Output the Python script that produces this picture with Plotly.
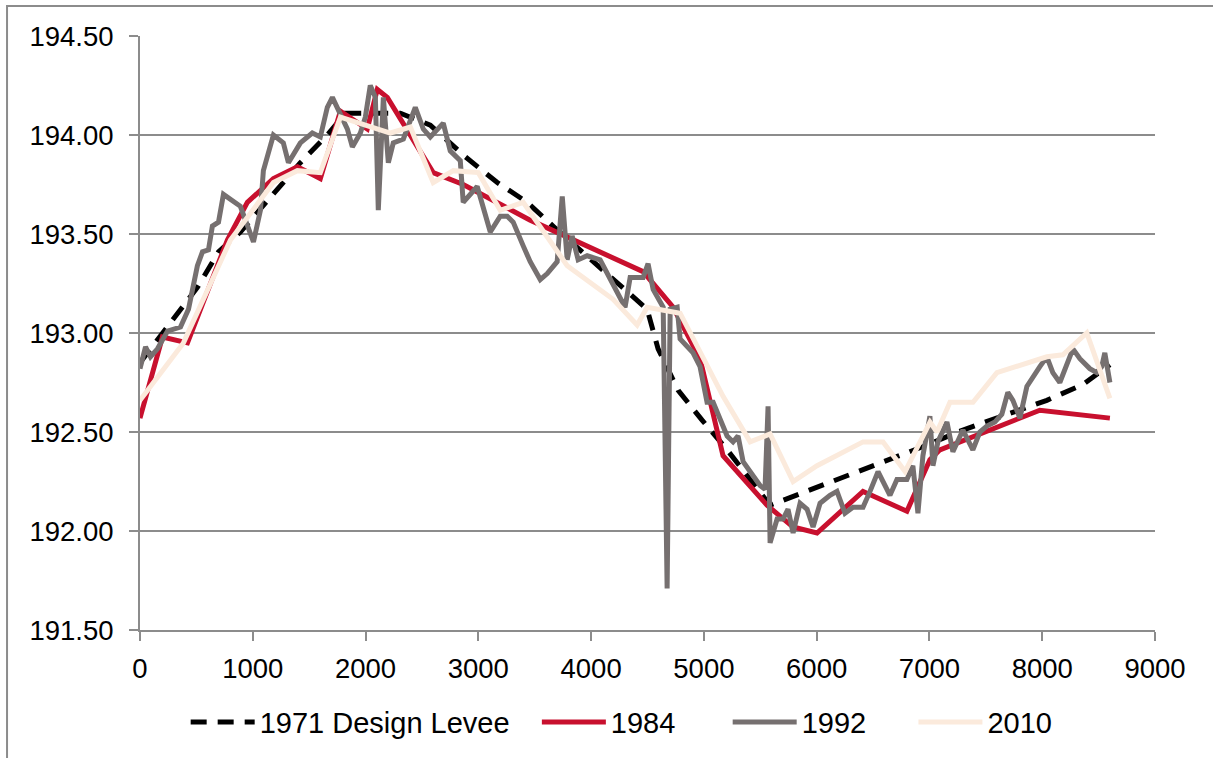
import plotly.graph_objects as go

# Station (ft) and crest elevation for each levee profile
design_x = [0, 297, 509, 696, 890, 1422, 1661, 1821, 2308, 2574, 2884, 3168, 3433, 3681,
            4275, 4497, 4594, 4772, 4984, 5206, 5587, 6003, 6357, 6667, 6960, 7297, 8041,
            8360, 8600]
design_y = [192.85, 193.07, 193.23, 193.41, 193.51, 193.86, 194.00, 194.11, 194.11, 194.05,
            193.89, 193.76, 193.66, 193.53, 193.23, 193.12, 192.92, 192.71, 192.56, 192.41,
            192.13, 192.22, 192.30, 192.37, 192.43, 192.51, 192.66, 192.74, 192.84]

y1984_x = [0, 199, 421, 775, 952, 1183, 1396, 1599, 1777, 2015, 2104, 2193, 2600, 2866,
           3460, 4461, 4727, 4966, 5170, 5560, 5790, 6003, 6411, 6800, 7004, 7093, 7979,
           8395, 8600]
y1984_y = [192.57, 192.98, 192.95, 193.47, 193.66, 193.78, 193.84, 193.78, 194.12, 194.03,
           194.23, 194.19, 193.81, 193.75, 193.57, 193.31, 193.13, 192.87, 192.38, 192.13,
           192.02, 191.99, 192.20, 192.10, 192.36, 192.41, 192.61, 192.58, 192.57]

y1992_x = [0, 49, 93, 155, 244, 359, 430, 465, 509, 554, 607, 642, 696, 740, 890, 1006,
           1068, 1094, 1183, 1271, 1316, 1422, 1528, 1599, 1661, 1706, 1777, 1839, 1883,
           1954, 1998, 2042, 2087, 2113, 2158, 2202, 2246, 2335, 2441, 2512, 2574, 2689,
           2751, 2840, 2866, 2990, 3106, 3194, 3256, 3309, 3398, 3460, 3549, 3611, 3699,
           3744, 3788, 3832, 3885, 3965, 4080, 4195, 4301, 4346, 4461, 4505, 4550, 4639,
           4674, 4701, 4763, 4789, 4904, 4966, 5028, 5082, 5144, 5206, 5259, 5303, 5348,
           5436, 5498, 5542, 5569, 5587, 5649, 5702, 5746, 5791, 5853, 5915, 5968, 6030,
           6118, 6180, 6251, 6322, 6411, 6473, 6544, 6650, 6712, 6800, 6853, 6898, 6942,
           7004, 7031, 7075, 7155, 7208, 7297, 7385, 7447, 7509, 7580, 7642, 7695, 7740,
           7802, 7864, 7917, 7979, 8041, 8094, 8156, 8218, 8272, 8334, 8422, 8484, 8528,
           8555, 8600]
y1992_y = [192.82, 192.93, 192.88, 192.92, 193.01, 193.03, 193.12, 193.22, 193.34, 193.41,
           193.42, 193.54, 193.56, 193.70, 193.64, 193.46, 193.62, 193.82, 194.00, 193.96,
           193.86, 193.96, 194.01, 193.99, 194.14, 194.19, 194.11, 194.03, 193.94, 194.01,
           194.09, 194.25, 194.19, 193.62, 194.19, 193.86, 193.96, 193.98, 194.14, 194.03,
           193.99, 194.06, 193.92, 193.87, 193.66, 193.74, 193.51, 193.59, 193.59, 193.56,
           193.44, 193.36, 193.27, 193.30, 193.36, 193.69, 193.37, 193.49, 193.37, 193.39,
           193.37, 193.25, 193.13, 193.28, 193.28, 193.35, 193.22, 193.13, 191.71, 193.12,
           193.13, 192.97, 192.90, 192.83, 192.65, 192.65, 192.56, 192.48, 192.45, 192.48,
           192.35, 192.28, 192.23, 192.21, 192.63, 191.94, 192.06, 192.06, 192.11, 191.99,
           192.14, 192.11, 192.02, 192.14, 192.18, 192.20, 192.09, 192.12, 192.12, 192.20,
           192.30, 192.18, 192.26, 192.26, 192.33, 192.09, 192.38, 192.58, 192.33, 192.45,
           192.55, 192.40, 192.51, 192.41, 192.50, 192.53, 192.55, 192.59, 192.70, 192.66,
           192.57, 192.73, 192.78, 192.83, 192.88, 192.80, 192.75, 192.85, 192.92, 192.87,
           192.82, 192.80, 192.83, 192.90, 192.75]

y2010_x = [0, 385, 802, 1183, 1396, 1599, 1777, 2220, 2397, 2600, 2778, 3000, 3194, 3398,
           3788, 4195, 4408, 4497, 4789, 4940, 5170, 5410, 5587, 5791, 6003, 6411, 6589,
           6784, 7005, 7067, 7182, 7386, 7598, 8041, 8183, 8395, 8600]
y2010_y = [192.66, 192.95, 193.47, 193.76, 193.82, 193.81, 194.09, 194.01, 194.04, 193.76,
           193.82, 193.81, 193.62, 193.66, 193.34, 193.17, 193.04, 193.13, 193.10, 192.93,
           192.68, 192.45, 192.49, 192.25, 192.33, 192.45, 192.45, 192.30, 192.55, 192.50,
           192.65, 192.65, 192.80, 192.88, 192.89, 193.00, 192.67]

x_ticks = [0, 1000, 2000, 3000, 4000, 5000, 6000, 7000, 8000, 9000]
y_ticks = [191.5, 192.0, 192.5, 193.0, 193.5, 194.0, 194.5]

GRID = "#8c8c8c"
FONT = "Liberation Sans, Arial, sans-serif"

series = [
    ("1971 Design Levee", design_x, design_y, dict(color="#000000", width=5, dash="16px,11px")),
    ("1984", y1984_x, y1984_y, dict(color="#c8102e", width=5)),
    ("1992", y1992_x, y1992_y, dict(color="#767070", width=5)),
    ("2010", y2010_x, y2010_y, dict(color="#fbeadc", width=5)),
]
legend_ids = ["legend", "legend2", "legend3", "legend4"]
legend_left = [0.045, 0.391, 0.579, 0.762]

fig = go.Figure()
for (name, xs, ys, line), lid in zip(series, legend_ids):
    fig.add_trace(go.Scatter(x=xs, y=ys, mode="lines", name=name, line=line, legend=lid))

legend_common = dict(orientation="h", xanchor="left", y=-0.155, yanchor="middle",
                     font=dict(size=29), itemwidth=64, bgcolor="rgba(0,0,0,0)")

fig.update_layout(
    width=1213, height=758,
    margin=dict(l=140, r=58, t=36, b=128, autoexpand=False),
    paper_bgcolor="white", plot_bgcolor="white",
    font=dict(family=FONT, size=27.5, color="black"),
    showlegend=True,
    **{lid: dict(legend_common, x=lx) for lid, lx in zip(legend_ids, legend_left)},
    xaxis=dict(range=[0, 9000], tickvals=x_ticks, ticks="outside", ticklen=9,
               tickwidth=2, tickcolor=GRID, showline=True, linecolor=GRID, linewidth=2,
               showgrid=False, zeroline=False, fixedrange=True, ticklabelstandoff=4),
    yaxis=dict(range=[191.5, 194.5], tickvals=y_ticks, tickformat=".2f", ticks="outside",
               ticklen=9, tickwidth=2, tickcolor=GRID, showline=True, linecolor=GRID,
               linewidth=2, showgrid=True, gridcolor=GRID, gridwidth=2, zeroline=False,
               fixedrange=True, ticklabelstandoff=10),
    shapes=[dict(type="rect", xref="paper", yref="paper", x0=-0.131, y0=-0.6, x1=1.3,
                 y1=1.0505, line=dict(color="#8c8c8c", width=2), layer="below")],
)

fig.write_html("out.html")
